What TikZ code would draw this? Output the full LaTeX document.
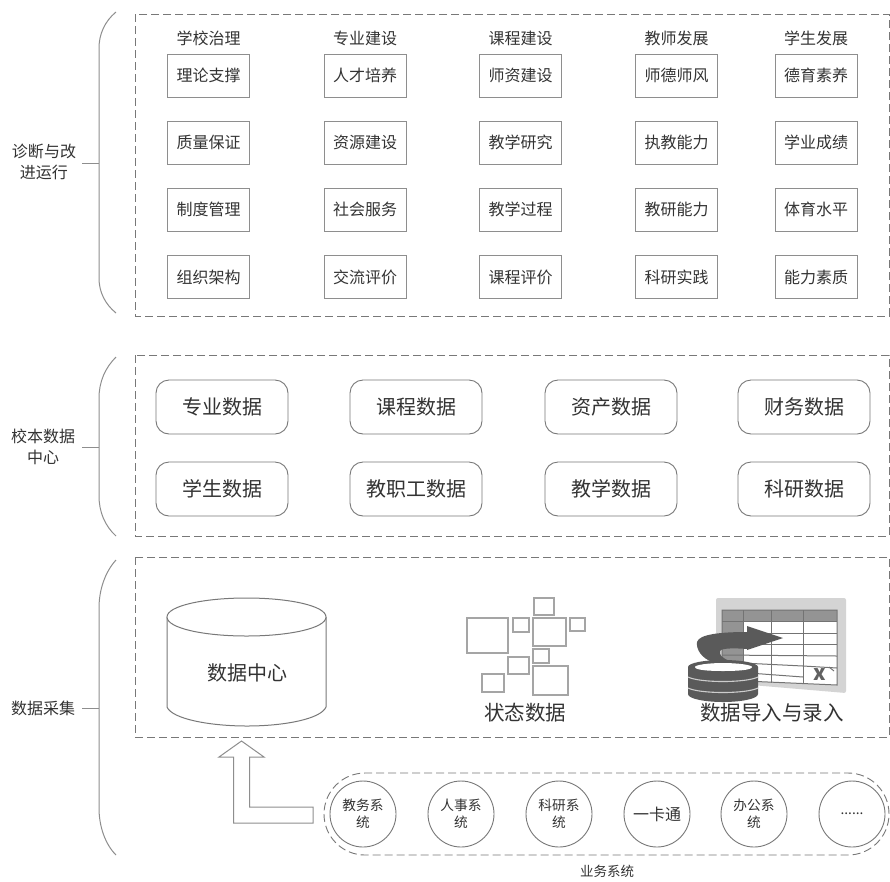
\documentclass[tikz,border=0pt]{standalone}
\usepackage{fontspec}
\setmainfont{Noto Sans CJK SC}
\definecolor{ink}{HTML}{333333}
\definecolor{edge}{HTML}{787878}
\definecolor{soft}{HTML}{8E8E8E}
\definecolor{dark}{HTML}{5A5A5A}
\tikzset{
 x=1pt,y=-1pt,
 every node/.style={text=ink,inner sep=0pt,outer sep=0pt,align=center},
 panel/.style={draw=edge,line width=.9pt,dash pattern=on 8pt off 4pt},
 brace/.style={draw=soft,line width=1pt},
 side/.style={font=\fontsize{16pt}{20.5pt}\selectfont},
 head/.style={font=\fontsize{16pt}{18pt}\selectfont},
 itembox/.style={draw=soft,line width=1pt,minimum width=82pt,minimum height=43pt,font=\fontsize{16pt}{18pt}\selectfont},
 databox/.style={draw=edge,line width=.9pt,rounded corners=13pt,minimum width=132pt,minimum height=54pt,font=\fontsize{20pt}{22pt}\selectfont},
 syscircle/.style={circle,draw=edge,line width=.9pt,minimum size=66pt,font=\fontsize{13.7pt}{17pt}\selectfont},
 tinybox/.style={draw=soft!80,line width=1.1pt},
 caption/.style={font=\fontsize{20.5pt}{24pt}\selectfont},
}
\begin{document}
\begin{tikzpicture}
\useasboundingbox (0,0) rectangle (890,881);
\fill[white] (0,0) rectangle (890,881);

% panels
\draw[panel] (135,14) rectangle (889,316);
\draw[panel] (135,355) rectangle (889,536);
\draw[panel] (135,557) rectangle (889,737);

% braces
\draw[brace] (116,12) .. controls (105,21) and (99,34) .. (99,48) -- (99,278) .. controls (99,292) and (105,304) .. (116,313);
\draw[brace] (116,357) .. controls (105,368) and (99,382) .. (99,398) -- (99,496) .. controls (99,512) and (105,526) .. (116,536);
\draw[brace] (116,560) .. controls (105,572) and (99,590) .. (99,608) -- (99,808) .. controls (99,826) and (105,844) .. (116,855);

% side labels with stubs
\node[side] (l1) at (44,162) {诊断与改\\进运行};
\node[side] (l2) at (43,447) {校本数据\\中心};
\node[side] (l3) at (43,708) {数据采集};
\coordinate (s1) at (99,163);
\coordinate (s2) at (99,447);
\coordinate (s3) at (99,708);
\draw[brace] (82,163) -- (s1);
\draw[brace] (82,447) -- (s2);
\draw[brace] (82,708) -- (s3);

% column heads
\node[head] (h1) at (208.5,38) {学校治理};
\node[head] (h2) at (365,38) {专业建设};
\node[head] (h3) at (520.5,38) {课程建设};
\node[head] (h4) at (676.5,38) {教师发展};
\node[head] (h5) at (816,38) {学生发展};

% item boxes
\def\ya{75.5}\def\yb{142.5}\def\yc{209.5}\def\yd{277}
\node[itembox] (a1) at (208.5,\ya) {理论支撑};
\node[itembox] (a2) at (208.5,\yb) {质量保证};
\node[itembox] (a3) at (208.5,\yc) {制度管理};
\node[itembox] (a4) at (208.5,\yd) {组织架构};
\node[itembox] (b1) at (365,\ya) {人才培养};
\node[itembox] (b2) at (365,\yb) {资源建设};
\node[itembox] (b3) at (365,\yc) {社会服务};
\node[itembox] (b4) at (365,\yd) {交流评价};
\node[itembox] (c1) at (520.5,\ya) {师资建设};
\node[itembox] (c2) at (520.5,\yb) {教学研究};
\node[itembox] (c3) at (520.5,\yc) {教学过程};
\node[itembox] (c4) at (520.5,\yd) {课程评价};
\node[itembox] (d1) at (676.5,\ya) {师德师风};
\node[itembox] (d2) at (676.5,\yb) {执教能力};
\node[itembox] (d3) at (676.5,\yc) {教研能力};
\node[itembox] (d4) at (676.5,\yd) {科研实践};
\node[itembox] (e1) at (816,\ya) {德育素养};
\node[itembox] (e2) at (816,\yb) {学业成绩};
\node[itembox] (e3) at (816,\yc) {体育水平};
\node[itembox] (e4) at (816,\yd) {能力素质};

% data boxes
\node[databox] (p1) at (222,407) {专业数据};
\node[databox] (p2) at (416,407) {课程数据};
\node[databox] (p3) at (611,407) {资产数据};
\node[databox] (p4) at (804,407) {财务数据};
\node[databox] (q1) at (222,489) {学生数据};
\node[databox] (q2) at (416,489) {教职工数据};
\node[databox] (q3) at (611,489) {教学数据};
\node[databox] (q4) at (804,489) {科研数据};

% cylinder
\draw[edge,line width=1pt,fill=white] (167,617) -- (167,707) .. controls (172,719) and (210,726) .. (247,726) .. controls (284,726) and (321,719) .. (326,707) -- (326,617);
\draw[edge,line width=1pt,fill=white] (246.5,598) .. controls (203,598) and (167,606) .. (167,617) .. controls (167,628) and (203,636) .. (246.5,636) .. controls (290,636) and (326,628) .. (326,617) .. controls (326,606) and (290,598) .. (246.5,598) -- cycle;
\node[font=\fontsize{20pt}{22pt}\selectfont] (dc) at (247,672.5) {数据中心};

% status data
\draw[tinybox] (467,618) rectangle (508,653);
\draw[tinybox] (513,618) rectangle (529,632);
\draw[tinybox] (534,598) rectangle (554,615);
\draw[tinybox] (533,618) rectangle (566,646);
\draw[tinybox] (570,618) rectangle (585,631);
\draw[tinybox] (533,649) rectangle (549,663);
\draw[tinybox] (508,657) rectangle (529,674);
\draw[tinybox] (482,674) rectangle (504,692);
\draw[tinybox] (533,666) rectangle (568,695);
\node[caption] (sd) at (525,713) {状态数据};

% import icon: sheet
\fill[black!17,rounded corners=2pt] (716,598) -- (846,598) -- (846,693) -- (716,682) -- cycle;
\fill[white] (722,610) -- (837,610) -- (837,685) -- (722,680) -- cycle;
\fill[black!42] (722,610) rectangle (837,621);
\fill[black!42] (722,621) -- (743,621) -- (743,670) -- (722,668) -- cycle;
\begin{scope}[draw=black!55,line width=1pt]
\draw (722,610) -- (837,610) -- (837,685) -- (722,680) -- cycle;
\draw (722,621) -- (837,621);
\draw (722,633) -- (837,633);
\draw (722,644) -- (837,644);
\draw (722,655) -- (837,656);
\draw (722,662) -- (803,666) -- (837,668);
\draw (722,671) -- (803,677);
\draw (743,610) -- (743,681);
\draw (771,610) -- (771,683);
\draw (803,610) -- (803,684);
\end{scope}
\draw[black!55,line width=1pt] (829,667) -- (834,671);
\node[font=\bfseries\fontsize{21pt}{21pt}\selectfont,text=black!62] (xm) at (820,675) {x};
% curved arrow
\fill[dark] (747,626) -- (783,638) -- (747,650) -- (747,649)
 .. controls (735,648) and (721,648) .. (720,651) .. controls (719,655) and (722,658) .. (730,661)
 -- (712,662) .. controls (702,658) and (696,650) .. (697,642) .. controls (699,634) and (722,632) .. (747,632) -- cycle;
% disk stack
\fill[dark] (688,667) -- (758,667) -- (758,694) .. controls (758,699) and (740,702) .. (723,702) .. controls (706,702) and (688,699) .. (688,694) -- cycle;
\fill[dark] (723,660) .. controls (742,660) and (758,663) .. (758,667) .. controls (758,672) and (742,675) .. (723,675) .. controls (704,675) and (688,672) .. (688,667) .. controls (688,663) and (704,660) .. (723,660) -- cycle;
\fill[white] (723,663) .. controls (738,663) and (752,665) .. (752,667) .. controls (752,670) and (738,671) .. (723,671) .. controls (708,671) and (695,670) .. (695,667) .. controls (695,665) and (708,663) .. (723,663) -- cycle;
\draw[white!80!black,line width=1.1pt] (688,677) .. controls (700,683) and (746,683) .. (758,677);
\draw[white!80!black,line width=1.1pt] (688,688) .. controls (700,694) and (746,694) .. (758,688);
\node[caption] (imp) at (772,713) {数据导入与录入};

% hollow L arrow
\draw[soft,line width=1pt,fill=white,line join=miter] (241.5,741) -- (264,757) -- (249.5,757) -- (249.5,807) -- (313,807) -- (313,823) -- (233.5,823) -- (233.5,757) -- (219,757) -- cycle;

% business systems
\draw[panel,rounded corners=41pt] (324,773) rectangle (889,855);
\node[syscircle] (c-a) at (363,814) {教务系\\统};
\node[syscircle] (c-b) at (461,814) {人事系\\统};
\node[syscircle] (c-c) at (559,814) {科研系\\统};
\node[syscircle,font=\fontsize{16pt}{18pt}\selectfont] (c-d) at (657,814) {一卡通};
\node[syscircle] (c-e) at (754,814) {办公系\\统};
\node[syscircle] (c-f) at (852,814) {......};
\node[font=\fontsize{13.5pt}{16pt}\selectfont] (biz) at (607,871) {业务系统};
\end{tikzpicture}
\end{document}
